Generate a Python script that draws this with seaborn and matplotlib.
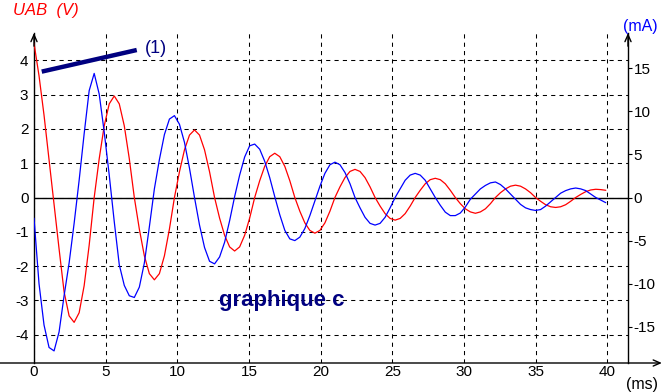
import matplotlib
matplotlib.use("Agg")
import matplotlib.pyplot as plt
import seaborn as sns

# ---------------- data ----------------
t_ms = [0, 0.35, 0.7, 1.05, 1.4, 1.75, 2.1, 2.45, 2.8, 3.15, 3.5, 3.85, 4.2, 4.55, 4.9, 5.25,
        5.6, 5.95, 6.3, 6.65, 7.0, 7.35, 7.7, 8.05, 8.4, 8.75, 9.1, 9.45, 9.8, 10.15, 10.5, 10.85,
        11.2, 11.55, 11.9, 12.25, 12.6, 12.95, 13.3, 13.65, 14.0, 14.35, 14.7, 15.05, 15.4, 15.75,
        16.1, 16.45, 16.8, 17.15, 17.5, 17.85, 18.2, 18.55, 18.9, 19.25, 19.6, 19.95, 20.3, 20.65,
        21.0, 21.35, 21.7, 22.05, 22.4, 22.75, 23.1, 23.45, 23.8, 24.15, 24.5, 24.85, 25.2, 25.55,
        25.9, 26.25, 26.6, 26.95, 27.3, 27.65, 28.0, 28.35, 28.7, 29.05, 29.4, 29.75, 30.1, 30.45,
        30.8, 31.15, 31.5, 31.85, 32.2, 32.55, 32.9, 33.25, 33.6, 33.95, 34.3, 34.65, 35.0, 35.35,
        35.7, 36.05, 36.4, 36.75, 37.1, 37.45, 37.8, 38.15, 38.5, 38.85, 39.2, 39.55, 39.9]

uab_V = [4.50, 3.55, 2.40, 1.10, -0.20, -1.50, -2.75, -3.45,
         -3.64, -3.36, -2.57, -1.39, 0.00, 1.13, 2.09, 2.73,
         2.96, 2.73, 2.09, 1.13, 0.00, -0.92, -1.70, -2.22,
         -2.40, -2.22, -1.70, -0.92, 0.00, 0.75, 1.39, 1.82,
         1.97, 1.82, 1.39, 0.75, 0.00, -0.60, -1.10, -1.44,
         -1.56, -1.44, -1.10, -0.60, 0.00, 0.49, 0.91, 1.19,
         1.29, 1.19, 0.91, 0.49, 0.00, -0.40, -0.74, -0.96,
         -1.04, -0.96, -0.74, -0.40, 0.00, 0.31, 0.58, 0.76,
         0.82, 0.76, 0.58, 0.31, 0.00, -0.25, -0.47, -0.61,
         -0.66, -0.61, -0.47, -0.25, 0.00, 0.21, 0.40, 0.52,
         0.56, 0.52, 0.40, 0.21, 0.00, -0.18, -0.33, -0.42,
         -0.46, -0.42, -0.33, -0.18, 0.00, 0.14, 0.25, 0.33,
         0.36, 0.33, 0.25, 0.14, 0.00, -0.11, -0.21, -0.27,
         -0.29, -0.27, -0.21, -0.11, 0.00, 0.09, 0.17, 0.22,
         0.24, 0.23, 0.21]

i_mA = [-2.4, -10.0, -14.8, -17.4, -17.8, -15.6, -11.4, -7.6,
        -3.0, 2.0, 7.4, 12.4, 14.4, 12.0, 7.6, 2.6,
        -2.8, -7.8, -10.2, -11.4, -11.6, -10.4, -7.6, -3.4,
        1.0, 4.4, 7.3, 9.1, 9.5, 8.5, 6.4, 3.4,
        0.0, -3.2, -5.8, -7.4, -7.7, -6.9, -5.2, -2.7,
        0.1, 2.6, 4.7, 6.0, 6.2, 5.6, 4.2, 2.3,
        0.1, -2.0, -3.8, -4.8, -5.0, -4.6, -3.6, -2.1,
        -0.4, 1.3, 2.8, 3.8, 4.1, 3.8, 2.9, 1.6,
        0.0, -1.2, -2.3, -3.0, -3.2, -3.0, -2.3, -1.2,
        0.0, 1.0, 2.0, 2.6, 2.8, 2.6, 2.0, 1.0,
        0.0, -0.9, -1.7, -2.1, -2.1, -1.8, -1.1, -0.2,
        0.4, 1.0, 1.4, 1.7, 1.8, 1.5, 1.0, 0.4,
        -0.2, -0.8, -1.2, -1.4, -1.5, -1.4, -1.0, -0.5,
        0.0, 0.5, 0.8, 1.0, 1.1, 1.0, 0.8, 0.4,
        0.0, -0.3, -0.6]

tangent_t = [0.54, 7.17]
tangent_V = [3.67, 4.30]

x_ticks = [0, 5, 10, 15, 20, 25, 30, 35, 40]
left_ticks = [-4, -3, -2, -1, 0, 1, 2, 3, 4]
right_ticks = [-15, -10, -5, 0, 5, 10, 15]

# ---------------- style ----------------
sns.set_style("white")
plt.rcParams["font.family"] = ["Liberation Sans", "DejaVu Sans"]
plt.rcParams["axes.unicode_minus"] = False

NAVY = "#000080"
W, H = 664, 392
fig = plt.figure(figsize=(W / 100, H / 100), dpi=100)
ax = fig.add_axes([34 / W, 29 / H, 594 / W, 330 / H])
ax.set_facecolor("none")
ax2 = ax.twinx()

# curves
sns.lineplot(x=t_ms, y=uab_V, ax=ax, color="#ff0000", lw=0.9, zorder=3)
sns.lineplot(x=t_ms, y=i_mA, ax=ax2, color="#0000ff", lw=0.9, zorder=3)
sns.lineplot(x=tangent_t, y=tangent_V, ax=ax, color=NAVY, lw=3.2, zorder=4,
             solid_capstyle="butt")

# limits
ax.set_xlim(0, 41.45)
ax.set_ylim(-4.825, 4.796)
k = 3.98
ax2.set_ylim(-4.825 * k, 4.796 * k)

ax.set_xticks(x_ticks)
ax.set_yticks(left_ticks)
ax2.set_yticks(right_ticks)
ax.set_xlabel("")
ax.set_ylabel("")
ax2.set_ylabel("")

# grid
ax.grid(True, color="black", lw=0.75, linestyle=(0, (4, 4)))
ax.axhline(0, color="black", lw=1.0, zorder=2)

# spines
for s in ["top", "right", "bottom"]:
    ax.spines[s].set_visible(False)
for s in ["top", "left", "bottom"]:
    ax2.spines[s].set_visible(False)
ax.spines["left"].set_color("black")
ax.spines["left"].set_linewidth(1.0)
ax2.spines["right"].set_color("black")
ax2.spines["right"].set_linewidth(1.0)

ax.tick_params(axis="x", length=0, pad=1.5, labelsize=11, colors="black")
ax.tick_params(axis="y", length=0, pad=4, labelsize=11, colors="black")
ax2.tick_params(axis="y", length=3, width=0.8, pad=1, labelsize=11, colors="black")

# axis arrows
arr = dict(arrowstyle="->,head_length=0.5,head_width=0.22", lw=1.0, color="black",
           shrinkA=0, shrinkB=0)
ax.annotate("", xy=(1.057, 0), xytext=(-0.058, 0), xycoords="axes fraction",
            arrowprops=arr, annotation_clip=False)
ax.annotate("", xy=(0, 1.0), xytext=(0, 0.96), xycoords="axes fraction",
            arrowprops=arr, annotation_clip=False)
ax.annotate("", xy=(1, 1.0), xytext=(1, 0.96), xycoords="axes fraction",
            arrowprops=arr, annotation_clip=False)

# texts
fig.text(13 / W, 1 - 11 / H, "UAB  (V)", color="#ff0000", fontsize=12,
         style="italic", ha="left", va="center")
fig.text(640 / W, 1 - 26 / H, "(mA)", color="#0000ff", fontsize=11.5,
         ha="center", va="center")
fig.text(642 / W, 1 - 384 / H, "(ms)", color="black", fontsize=11.5,
         ha="center", va="center")
ax.text(8.51, 4.34, "(1)", color=NAVY, fontsize=13, ha="center", va="center")
ax.text(17.3, -3.0, "graphique c", color=NAVY, fontsize=16, fontweight="bold",
        ha="center", va="center", zorder=5)

fig.savefig("out.png", dpi=100)
